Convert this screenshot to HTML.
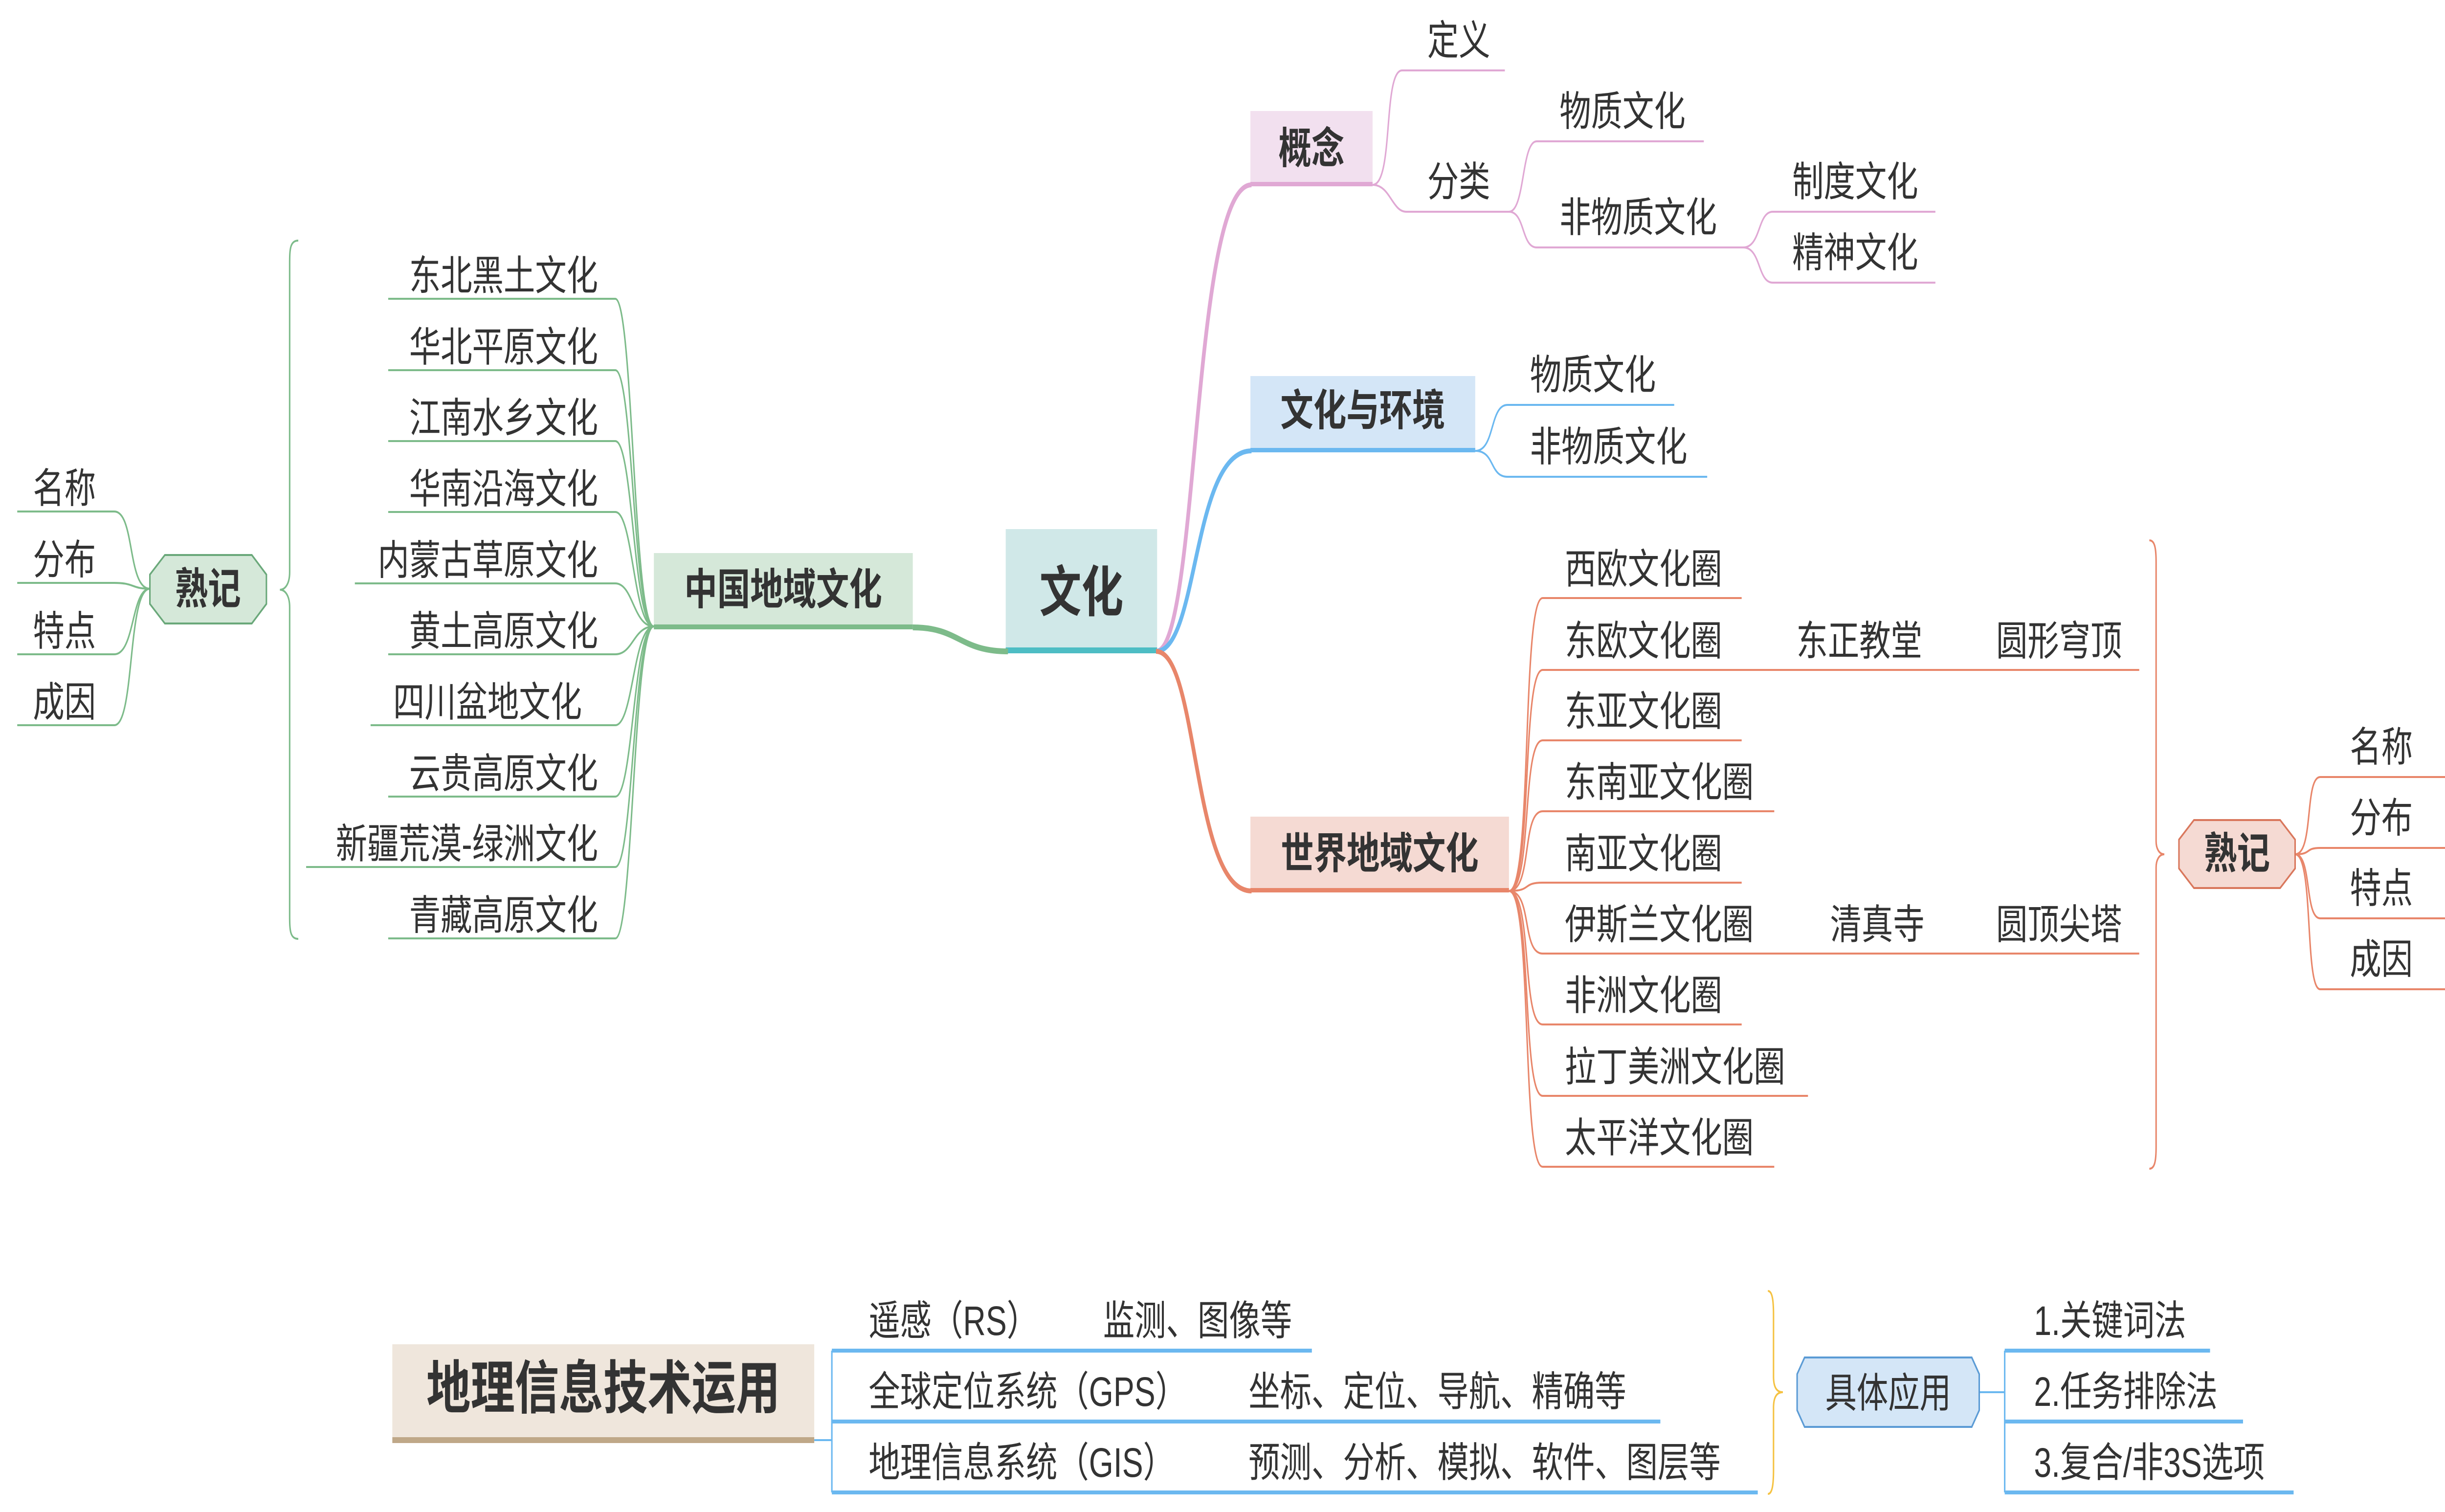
<!DOCTYPE html>
<html><head><meta charset="utf-8"><style>
html,body{margin:0;padding:0;background:#fff;overflow:hidden;width:100vw;height:100vh;}
svg{display:block;width:100vw;height:100vh;}
text{font-family:"Liberation Sans","Noto Sans CJK SC",sans-serif;fill:#333;}
.t{font-size:84px;}
.h{font-size:88px;font-weight:bold;}
</style></head><body>
<svg viewBox="0 0 6525 3092" preserveAspectRatio="none" xmlns="http://www.w3.org/2000/svg">
<rect x="2684" y="1082" width="404" height="250" fill="#d0e8e8"/>
<rect x="2684" y="1324" width="404" height="12" fill="#4dbdc4"/>
<text x="2886" y="1250" text-anchor="middle" style="font-size:112px;font-weight:bold">文化</text>

<path d="M2436 1283 C2560 1283 2560 1332 2690 1332" stroke="#7dbb8a" stroke-width="12" fill="none"/>
<rect x="1745" y="1131" width="691" height="148" fill="#d5e8d9"/>
<rect x="1745" y="1277" width="691" height="10" fill="#7dbb8a"/>
<text x="2090" y="1236" text-anchor="middle" class="h">中国地域文化</text>
<g stroke="#7dbb8a" stroke-width="4" fill="none">
<path d="M1036 611 H1642 C1690 611 1690 1281 1745 1281"/>
<path d="M1036 757 H1642 C1690 757 1690 1281 1745 1281"/>
<path d="M1036 902 H1642 C1690 902 1690 1281 1745 1281"/>
<path d="M1036 1047 H1642 C1690 1047 1690 1281 1745 1281"/>
<path d="M947 1193 H1642 C1690 1193 1690 1281 1745 1281"/>
<path d="M1036 1338 H1642 C1690 1338 1690 1281 1745 1281"/>
<path d="M989 1483 H1642 C1690 1483 1690 1281 1745 1281"/>
<path d="M1036 1629 H1642 C1690 1629 1690 1281 1745 1281"/>
<path d="M817 1773 H1642 C1690 1773 1690 1281 1745 1281"/>
<path d="M1036 1919 H1642 C1690 1919 1690 1281 1745 1281"/>
<path d="M796 492 C774 492 773 510 773 540 V1170 C773 1195 760 1206 747 1206 C760 1206 773 1217 773 1242 V1872 C773 1902 774 1920 796 1920"/>
<path d="M46 1046 H305 C360 1046 340 1204 400 1204"/>
<path d="M46 1192 H305 C360 1192 350 1204 400 1204"/>
<path d="M46 1338 H305 C360 1338 350 1204 400 1204"/>
<path d="M46 1483 H305 C360 1483 340 1204 400 1204"/>
</g>
<g class="t" text-anchor="end">
<text x="1596" y="593">东北黑土文化</text>
<text x="1596" y="739">华北平原文化</text>
<text x="1596" y="884">江南水乡文化</text>
<text x="1596" y="1029">华南沿海文化</text>
<text x="1596" y="1175">内蒙古草原文化</text>
<text x="1596" y="1320">黄土高原文化</text>
<text x="1553" y="1465">四川盆地文化</text>
<text x="1596" y="1611">云贵高原文化</text>
<text x="1596" y="1755">新疆荒漠-绿洲文化</text>
<text x="1596" y="1901">青藏高原文化</text>
</g>
<polygon points="440,1135 672,1135 711,1175 711,1235 672,1275 440,1275 400,1235 400,1175" fill="#d5e8d9" stroke="#6aa87a" stroke-width="4"/>
<text x="555" y="1235" text-anchor="middle" class="h">熟记</text>
<g class="t">
<text x="88" y="1028">名称</text>
<text x="88" y="1174">分布</text>
<text x="88" y="1320">特点</text>
<text x="88" y="1465">成因</text>
</g>

<path d="M3085 1332 C3200 1332 3180 378 3340 378" stroke="#e0a8d4" stroke-width="10" fill="none"/>
<path d="M3085 1332 C3200 1332 3180 922 3340 922" stroke="#6bb8f0" stroke-width="10" fill="none"/>
<path d="M3085 1332 C3200 1332 3180 1822 3340 1822" stroke="#e8866a" stroke-width="10" fill="none"/>

<rect x="3337" y="227" width="326" height="147" fill="#f2e0ef"/>
<rect x="3337" y="372" width="326" height="9" fill="#e0a8d4"/>
<text x="3500" y="334" text-anchor="middle" class="h">概念</text>
<g stroke="#e0a8d4" stroke-width="4" fill="none">
<path d="M3663 378 C3720 378 3690 144 3742 144 H4016"/>
<path d="M3663 378 C3710 378 3715 433 3753 433 H4027 C4070 433 4060 289 4101 289 H4547"/>
<path d="M4027 433 C4070 433 4060 506 4101 506 H4652 C4700 506 4690 433 4731 433 H5165"/>
<path d="M4652 506 C4700 506 4690 578 4731 578 H5165"/>
</g>
<g class="t">
<text x="3809" y="112">定义</text>
<text x="3809" y="401">分类</text>
<text x="4162" y="257">物质文化</text>
<text x="4162" y="474">非物质文化</text>
<text x="4783" y="401">制度文化</text>
<text x="4783" y="546">精神文化</text>
</g>

<rect x="3337" y="769" width="600" height="149" fill="#d4e6f7"/>
<rect x="3337" y="916" width="600" height="9" fill="#6bb8f0"/>
<text x="3637" y="870" text-anchor="middle" class="h">文化与环境</text>
<g stroke="#6bb8f0" stroke-width="4" fill="none">
<path d="M3937 922 C3990 922 3975 828 4023 828 H4468"/>
<path d="M3937 922 C3990 922 3975 975 4023 975 H4556"/>
</g>
<g class="t">
<text x="4083" y="796">物质文化</text>
<text x="4083" y="943">非物质文化</text>
</g>

<rect x="3337" y="1670" width="690" height="148" fill="#f5dad3"/>
<rect x="3337" y="1816" width="690" height="9" fill="#e8866a"/>
<text x="3682" y="1776" text-anchor="middle" class="h">世界地域文化</text>
<g stroke="#e8866a" stroke-width="4" fill="none">
<path d="M4027 1822 C4090 1822 4060 1223 4117 1223 H4648"/>
<path d="M4027 1822 C4090 1822 4060 1370 4117 1370 H5709"/>
<path d="M4027 1822 C4090 1822 4060 1514 4117 1514 H4648"/>
<path d="M4027 1822 C4090 1822 4060 1659 4117 1659 H4735"/>
<path d="M4027 1822 C4090 1822 4060 1805 4117 1805 H4648"/>
<path d="M4027 1822 C4090 1822 4060 1950 4117 1950 H5709"/>
<path d="M4027 1822 C4090 1822 4060 2095 4117 2095 H4648"/>
<path d="M4027 1822 C4090 1822 4060 2241 4117 2241 H4825"/>
<path d="M4027 1822 C4090 1822 4060 2386 4117 2386 H4735"/>
<path d="M5736 1105 C5750 1105 5754 1120 5754 1150 V1720 C5754 1735 5762 1747 5776 1747 C5762 1747 5754 1759 5754 1774 V2345 C5754 2375 5750 2390 5736 2390"/>
<path d="M6125 1747 C6175 1747 6150 1589 6192 1589 H6525"/>
<path d="M6125 1747 C6170 1747 6150 1734 6192 1734 H6525"/>
<path d="M6125 1747 C6170 1747 6150 1878 6192 1878 H6525"/>
<path d="M6125 1747 C6175 1747 6150 2023 6192 2023 H6525"/>
</g>
<g class="t">
<text x="4176" y="1193">西欧文化圈</text>
<text x="4176" y="1340">东欧文化圈</text>
<text x="4794" y="1340">东正教堂</text>
<text x="5327" y="1340">圆形穹顶</text>
<text x="4176" y="1484">东亚文化圈</text>
<text x="4176" y="1629">东南亚文化圈</text>
<text x="4176" y="1775">南亚文化圈</text>
<text x="4176" y="1920">伊斯兰文化圈</text>
<text x="4884" y="1920">清真寺</text>
<text x="5327" y="1920">圆顶尖塔</text>
<text x="4176" y="2065">非洲文化圈</text>
<text x="4176" y="2211">拉丁美洲文化圈</text>
<text x="4176" y="2356">太平洋文化圈</text>
</g>
<polygon points="5855,1677 6085,1677 6125,1717 6125,1776 6085,1816 5855,1816 5815,1776 5815,1717" fill="#f5dad3" stroke="#d9775c" stroke-width="4"/>
<text x="5970" y="1776" text-anchor="middle" class="h">熟记</text>
<g class="t">
<text x="6271" y="1557">名称</text>
<text x="6271" y="1702">分布</text>
<text x="6271" y="1846">特点</text>
<text x="6271" y="1991">成因</text>
</g>

<rect x="1047" y="2749" width="1126" height="190" fill="#efe6dc"/>
<rect x="1047" y="2939" width="1126" height="12" fill="#bfa888"/>
<text x="1610" y="2880" text-anchor="middle" style="font-size:118px;font-weight:bold">地理信息技术运用</text>
<g stroke="#6bb8f0" fill="none">
<path d="M2173 2945 H2220 M2220 2762 V3052" stroke-width="4"/>
<path d="M2220 2762 H3501 M2220 2907 H4431 M2220 3052 H4691" stroke-width="8"/>
<path d="M5282 2847 H5350 M5350 2762 V3052" stroke-width="4"/>
<path d="M5350 2762 H5898 M5350 2907 H5986 M5350 3052 H6121" stroke-width="8"/>
</g>
<path d="M4718 2640 C4730 2640 4733 2660 4733 2690 V2815 C4733 2835 4740 2847 4758 2847 C4740 2847 4733 2859 4733 2879 V3005 C4733 3035 4730 3055 4718 3055" stroke="#f5c242" stroke-width="4" fill="none"/>
<polygon points="4816,2776 5262,2776 5282,2810 5282,2884 5262,2918 4816,2918 4796,2884 4796,2810" fill="#d4e6f7" stroke="#5b9bd5" stroke-width="4"/>
<text x="5039" y="2878" text-anchor="middle" style="font-size:84px">具体应用</text>
<g class="t">
<text x="2318" y="2730">遥感（RS）</text>
<text x="2944" y="2730">监测、图像等</text>
<text x="2318" y="2875">全球定位系统（GPS）</text>
<text x="3332" y="2875">坐标、定位、导航、精确等</text>
<text x="2318" y="3020">地理信息系统（GIS）</text>
<text x="3332" y="3020">预测、分析、模拟、软件、图层等</text>
<text x="5428" y="2730">1.关键词法</text>
<text x="5428" y="2875">2.任务排除法</text>
<text x="5428" y="3020">3.复合/非3S选项</text>
</g>
</svg>
</body></html>
